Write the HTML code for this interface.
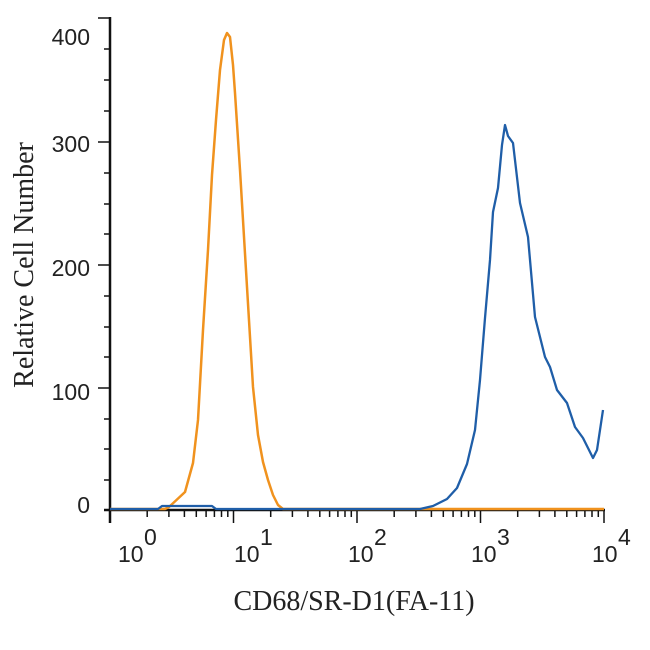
<!DOCTYPE html>
<html><head><style>body{margin:0;background:#fff}</style></head><body>
<svg width="650" height="645" xmlns="http://www.w3.org/2000/svg">
<g stroke="#111" stroke-width="2.5" fill="none">
<line x1="110" y1="17" x2="110" y2="523"/>
<line x1="104" y1="510" x2="605" y2="510"/>
</g>
<g stroke="#111" stroke-width="1.5">
<line x1="98" y1="18" x2="110" y2="18"/><line x1="98" y1="142" x2="110" y2="142"/><line x1="98" y1="265" x2="110" y2="265"/><line x1="98" y1="388" x2="110" y2="388"/>
<line x1="104" y1="49" x2="110" y2="49"/><line x1="104" y1="80" x2="110" y2="80"/><line x1="104" y1="111" x2="110" y2="111"/>
<line x1="104" y1="173" x2="110" y2="173"/><line x1="104" y1="204" x2="110" y2="204"/><line x1="104" y1="234" x2="110" y2="234"/>
<line x1="104" y1="296" x2="110" y2="296"/><line x1="104" y1="327" x2="110" y2="327"/><line x1="104" y1="357" x2="110" y2="357"/>
<line x1="104" y1="419" x2="110" y2="419"/><line x1="104" y1="449" x2="110" y2="449"/><line x1="104" y1="480" x2="110" y2="480"/>
</g>
<g stroke="#111" stroke-width="1.5">
<line x1="110" y1="510" x2="110" y2="523"/><line x1="147.2" y1="510" x2="147.2" y2="517"/><line x1="168.9" y1="510" x2="168.9" y2="517"/><line x1="184.4" y1="510" x2="184.4" y2="517"/><line x1="196.3" y1="510" x2="196.3" y2="517"/><line x1="206.1" y1="510" x2="206.1" y2="517"/><line x1="214.4" y1="510" x2="214.4" y2="517"/><line x1="221.5" y1="510" x2="221.5" y2="517"/><line x1="227.8" y1="510" x2="227.8" y2="517"/>
<line x1="233.5" y1="510" x2="233.5" y2="523"/><line x1="270.7" y1="510" x2="270.7" y2="517"/><line x1="292.4" y1="510" x2="292.4" y2="517"/><line x1="307.9" y1="510" x2="307.9" y2="517"/><line x1="319.8" y1="510" x2="319.8" y2="517"/><line x1="329.6" y1="510" x2="329.6" y2="517"/><line x1="337.9" y1="510" x2="337.9" y2="517"/><line x1="345" y1="510" x2="345" y2="517"/><line x1="351.3" y1="510" x2="351.3" y2="517"/>
<line x1="357" y1="510" x2="357" y2="523"/><line x1="394.2" y1="510" x2="394.2" y2="517"/><line x1="415.9" y1="510" x2="415.9" y2="517"/><line x1="431.4" y1="510" x2="431.4" y2="517"/><line x1="443.3" y1="510" x2="443.3" y2="517"/><line x1="453.1" y1="510" x2="453.1" y2="517"/><line x1="461.4" y1="510" x2="461.4" y2="517"/><line x1="468.5" y1="510" x2="468.5" y2="517"/><line x1="474.8" y1="510" x2="474.8" y2="517"/>
<line x1="480.5" y1="510" x2="480.5" y2="523"/><line x1="517.7" y1="510" x2="517.7" y2="517"/><line x1="539.4" y1="510" x2="539.4" y2="517"/><line x1="554.9" y1="510" x2="554.9" y2="517"/><line x1="566.8" y1="510" x2="566.8" y2="517"/><line x1="576.6" y1="510" x2="576.6" y2="517"/><line x1="584.9" y1="510" x2="584.9" y2="517"/><line x1="592" y1="510" x2="592" y2="517"/><line x1="598.3" y1="510" x2="598.3" y2="517"/>
<line x1="604" y1="510" x2="604" y2="523"/>
</g>
<g font-family="Liberation Sans, sans-serif" font-size="23" fill="#222" text-anchor="end">
<text x="90" y="45">400</text><text x="90" y="152">300</text><text x="90" y="276">200</text><text x="90" y="400">100</text><text x="90" y="513">0</text>
</g>
<g font-family="Liberation Sans, sans-serif" fill="#222" font-size="23">
<text x="118" y="562">10</text><text x="144" y="545">0</text>
<text x="234" y="562">10</text><text x="260" y="545">1</text>
<text x="348" y="562">10</text><text x="374" y="545">2</text>
<text x="471" y="562">10</text><text x="497" y="545">3</text>
<text x="592" y="562">10</text><text x="618" y="545">4</text>
</g>
<text x="354" y="610" font-family="Liberation Serif, serif" font-size="28" fill="#222" text-anchor="middle">CD68/SR-D1(FA-11)</text>
<text transform="translate(33,265) rotate(-90)" font-family="Liberation Serif, serif" font-size="28" fill="#222" text-anchor="middle">Relative Cell Number</text>
<polyline fill="none" stroke="#f0921e" stroke-width="2.5" stroke-linejoin="round" points="110,509 165,509 169,507 185,492 193,463 198,420 203,330 208,250 212,175 216,120 220,70 224,40 227,33 230,37 233,65 235,93 240,170 247,287 253,387 258,435 263,462 268,480 273,495 278,505 283,509 604,509"/>
<polyline fill="none" stroke="#1f5ea8" stroke-width="2.3" stroke-linejoin="round" points="110,509 158,509 162,506 212,506 216,509 420,509 433,506 447,499 457,488 467,464 475,430 480,380 485,318 490,260 493,212 498,188 502,145 505,125 508,136 513,143 520,203 528,237 535,317 545,357 550,367 557,390 567,403 575,427 583,438 593,458 597,450 603,410"/>
</svg>
</body></html>
